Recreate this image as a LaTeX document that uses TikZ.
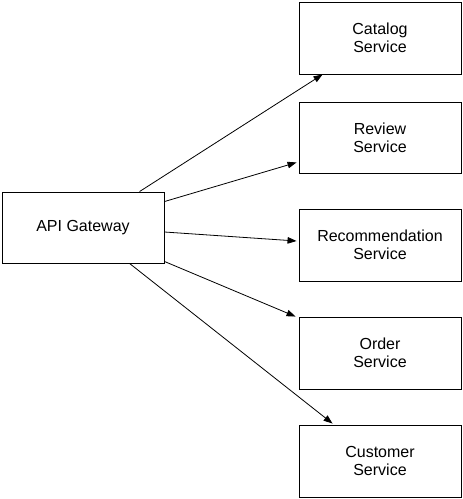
\documentclass[tikz,border=0pt]{standalone}
\usepackage{fontspec}
\setmainfont{Liberation Sans}
\usetikzlibrary{arrows.meta,calc}
\begin{document}
\begin{tikzpicture}[x=1pt,y=-1pt,
  box/.style={draw=black,line width=0.9pt,minimum width=162pt,minimum height=72pt,inner sep=0pt,align=center,font=\fontsize{16}{18}\selectfont},
  arr/.style={draw=black,line width=0.8pt,-{Triangle[length=9pt,width=6.5pt]},shorten >=0pt}]
\useasboundingbox (0,0) rectangle (463,499);
\fill[white] (0,0) rectangle (463,499);
\node[box,minimum height=71pt] (gw) at (83,227.5) {API Gateway};
\node[box] (cat) at (380,38) {Catalog\\Service};
\node[box,minimum height=71pt] (rev) at (380,137.5) {Review\\Service};
\node[box] (rec) at (380,245) {Recommendation\\Service};
\node[box] (ord) at (380,353) {Order\\Service};
\node[box] (cus) at (380,461) {Customer\\Service};
\draw[arr] ($(gw.north west)+(138,0)$) -- ($(cat.south west)+(24,0)$);
\draw[arr] ($(gw.north east)+(0,10)$) -- ($(rev.south west)+(-2,-11)$);
\draw[arr] ($(gw.east)+(0,4.5)$) -- ($(rec.west)+(-2,-4)$);
\draw[arr] ($(gw.south east)+(0,-2)$) -- ($(ord.north west)+(-3,0)$);
\draw[arr] ($(gw.south west)+(128,0)$) -- ($(cus.north west)+(34,-1)$);
\end{tikzpicture}
\end{document}
